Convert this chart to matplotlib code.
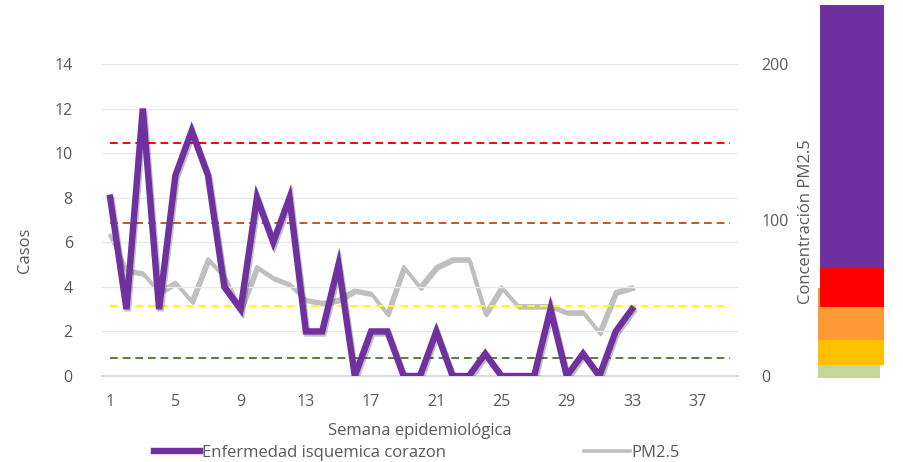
import matplotlib
matplotlib.use("Agg")
import matplotlib.pyplot as plt
import matplotlib.patheffects as pe
from matplotlib.lines import Line2D

plt.rcParams['font.family'] = ['Open Sans', 'DejaVu Sans']

# ---- data ----
semanas = list(range(1, 40))
tick_semanas = [1, 5, 9, 13, 17, 21, 25, 29, 33, 37]
casos = [8, 3, 12, 3, 9, 11, 9, 4, 3, 8, 6, 8, 2, 2, 5, 0, 2, 2, 0, 0,
         2, 0, 0, 1, 0, 0, 0, 3, 0, 1, 0, 2, 3]
pm25 = [90, 68, 66, 54, 60, 48, 75, 64, 43, 70, 63, 59, 49, 47, 49, 55,
        53, 40, 70, 57, 70, 75, 75, 40, 57, 45, 45, 45, 41, 41, 28, 54, 57]
# thresholds (in Casos-axis units) drawn as dashed reference lines
umbrales = [10.45, 6.85, 3.15, 0.8]
umbral_colores = ['#FF0000', '#C55A11', '#FFFF00', '#548235']
# colour scale bands (bottom, top) in pixels of the side image
bandas_color = ['#C4D79B', '#FFC000', '#FF9933', '#FF0000', '#7030A0']
bandas_inf = [0, 13, 38, 71, 110]
bandas_sup = [13, 38, 90, 110, 373]
bandas_x0 = [0, 0, 0, 2, 2]
bandas_x1 = [62, 66, 66, 66, 66]

W, H = 904, 462
fig = plt.figure(figsize=(W / 100, H / 100), dpi=100)
ax = fig.add_axes([102 / W, 1 - 376 / H, (738 - 102) / W, (376 - 64) / H])
ax2 = ax.twinx()

txt = '#595959'
fs_tick = 11.5
fs = 12
ax.set_xlim(0.5, 39.5)
ax.set_ylim(0, 14)
ax2.set_ylim(0, 200)
ax.set_yticks(range(0, 15, 2))
ax2.set_yticks([0, 100, 200])
ax.set_xticks(tick_semanas)
ax.grid(axis='y', color='#E8E8E8', lw=1)
ax.set_axisbelow(True)
for a in (ax, ax2):
    for s in ('top', 'left', 'right'):
        a.spines[s].set_visible(False)
    a.spines['bottom'].set_color('#D9D9D9')
    a.spines['bottom'].set_linewidth(1.2)
    a.tick_params(length=0, colors=txt, labelsize=fs_tick)
ax.tick_params(axis='y', pad=21)
ax.tick_params(axis='x', pad=13)
ax2.tick_params(axis='y', pad=17)

for v, c in zip(umbrales, umbral_colores):
    ax.plot([semanas[0], semanas[-1]], [v, v], color=c, lw=1.4,
            ls=(0, (4, 2.5)), zorder=2)

shadow = [pe.SimpleLineShadow(offset=(1, -1.5), shadow_color='#000000', alpha=0.25), pe.Normal()]
x = semanas[:len(casos)]
ax.plot(x, casos, color='#7030A0', lw=4.6, solid_joinstyle='miter',
        path_effects=shadow, zorder=4)
ax2.plot(x, pm25, color='#BFBFBF', lw=2.6, path_effects=shadow, zorder=3)
ax.set_zorder(ax2.get_zorder() + 1)
ax.patch.set_visible(False)

ax.set_xlabel('Semana epidemiológica', color=txt, fontsize=fs, labelpad=9)
fig.text(25 / W, 1 - 250 / H, 'Casos', rotation=90, color=txt, fontsize=fs,
         ha='center', va='center')
fig.text(806 / W, 1 - 222 / H, 'Concentración PM2.5', rotation=90, color=txt,
         fontsize=fs, ha='center', va='center')

fig.legend([Line2D([], [], color='#7030A0', lw=4.6), Line2D([], [], color='#BFBFBF', lw=2.6)],
           ['Enfermedad isquemica corazon', 'PM2.5'], ncol=2, loc='center',
           bbox_to_anchor=(417 / W, 1 - 453 / H), frameon=False,
           handlelength=2.75, handletextpad=0.12, columnspacing=8.3,
           fontsize=fs, labelcolor=txt)

# colour scale image on the right
cax = fig.add_axes([818 / W, 1 - 378 / H, 66 / W, 373 / H])
cax.set_xlim(0, 66)
cax.set_ylim(0, 373)
cax.axis('off')
for c, b0, b1, x0, x1 in zip(bandas_color, bandas_inf, bandas_sup, bandas_x0, bandas_x1):
    cax.bar(x0, b1 - b0, bottom=b0, width=x1 - x0, align='edge', color=c, lw=0)

fig.savefig('out.png', dpi=100)
